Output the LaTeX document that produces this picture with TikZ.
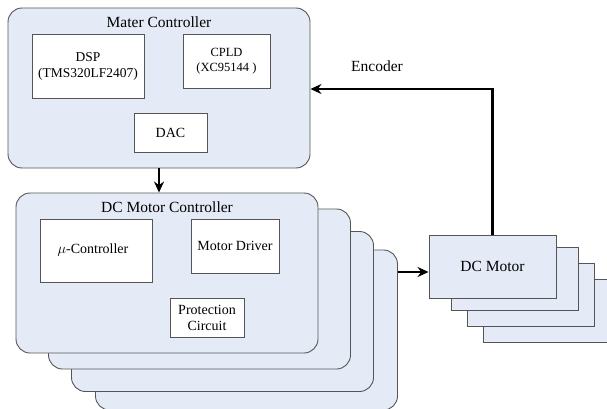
\documentclass[tikz,border=0pt]{standalone}
\usepackage{fontspec}
\setmainfont{Liberation Serif}
\usetikzlibrary{positioning,arrows.meta}
\definecolor{cardblue}{RGB}{229,235,246}
\definecolor{edgegray}{RGB}{85,85,85}
\begin{document}
\begin{tikzpicture}
[x=1pt, y=-1pt, card/.style={draw=edgegray, fill=cardblue, line width=0.9pt, rounded corners=14pt, minimum width=302pt, minimum height=160pt},
motor/.style={draw=edgegray, fill=cardblue, line width=0.9pt, minimum width=127pt, minimum height=63pt, font=\fontsize{15.5}{17}\selectfont},
part/.style={draw=edgegray, fill=white, line width=0.9pt, align=center, font=\fontsize{14}{16}\selectfont},
title/.style={font=\fontsize{15.5}{17}\selectfont},
link/.style={-{Stealth[length=11pt,width=10pt]}, line width=2.6pt}]
\clip (0,0) rectangle (607,409);

% master controller
\node[card] (master) at (159,88) {};
\node[title] (mtitle) at (159,22) {Mater Controller};
\node[part, minimum width=112pt, minimum height=64pt, font=\fontsize{13.5}{16}\selectfont] (dsp) at (88,66) {DSP\\(TMS320LF2407)};
\node[part, minimum width=87pt, minimum height=54pt, font=\fontsize{12.5}{15}\selectfont] (cpld) at (226.5,61) {CPLD\\(XC95144 )};
\node[part, minimum width=73pt, minimum height=39pt] (dac) at (170.5,132.5) {DAC};

% dc motor controllers, back to front
\node[card] (ctrl4) at (246.5,330) {};
\node[card] (ctrl3) at (222.5,311.5) {};
\node[card] (ctrl2) at (199.5,289) {};
\node[card] (ctrl) at (167,273) {};
\node[title] (ctitle) at (167,207) {DC Motor Controller};
\node[part, minimum width=112pt, minimum height=63pt] (mcu) at (96,250.5) {$\mu$-Controller\hspace{6pt}};
\node[part, minimum width=88pt, minimum height=54pt] (driver) at (235,246) {Motor Driver};
\node[part, minimum width=74pt, minimum height=39pt] (prot) at (207,317.5) {Protection\\Circuit};

% dc motors, back to front
\node[motor] (motor4) at (546.5,311) {};
\node[motor] (motor3) at (530.5,295) {};
\node[motor] (motor2) at (514.5,279) {};
\node[motor] (motor) at (492.5,266.5) {DC Motor};

\coordinate (bend) at (motor.north |- 0,89);
\node[title] (enc) at (377,66) {Encoder};

\draw[link] (master.south) -- (master.south |- ctrl.north);
\draw[link] (ctrl4.east |- 0,272) -- (motor.west |- 0,272);
\draw[link] (motor.north) -- (bend) -- (bend -| master.east);
\end{tikzpicture}
\end{document}
